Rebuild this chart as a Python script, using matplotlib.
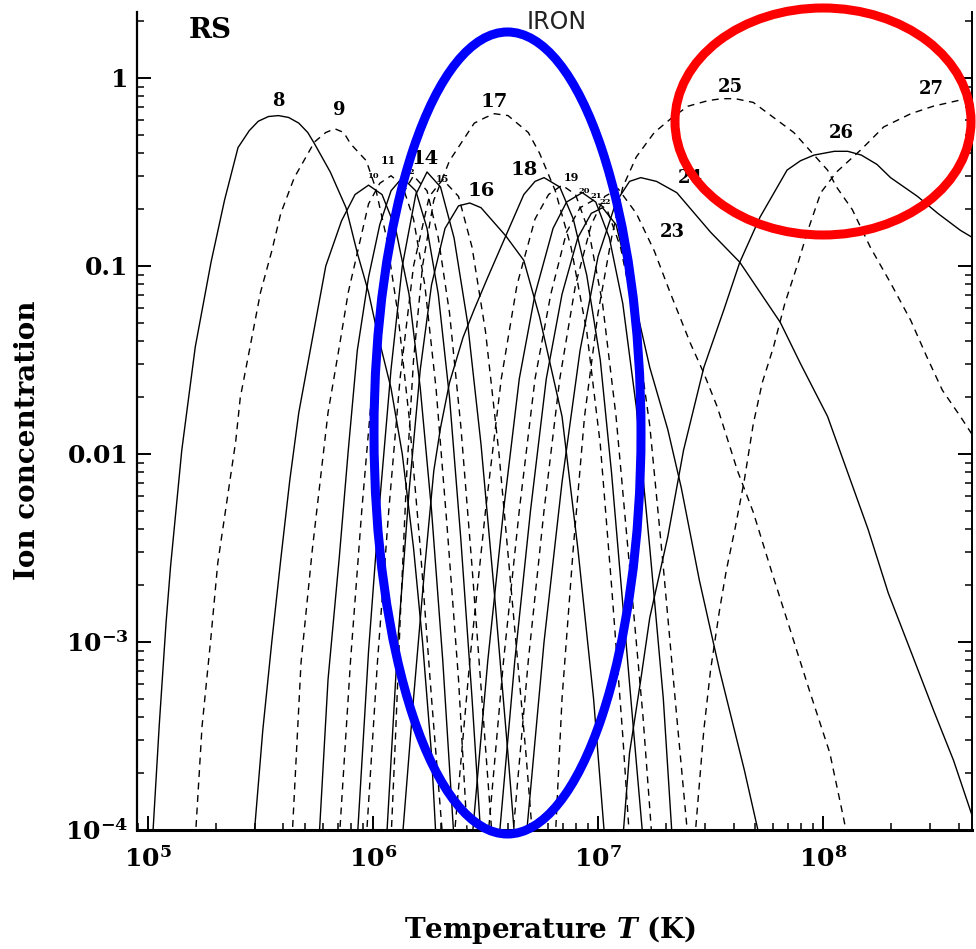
import numpy as np
import matplotlib
matplotlib.use("Agg")
import matplotlib.pyplot as plt
from matplotlib.patches import Ellipse
from matplotlib.ticker import NullFormatter

plt.rcParams["font.family"] = "DejaVu Serif"
plt.rcParams["font.weight"] = "bold"
plt.rcParams["mathtext.fontset"] = "custom"
plt.rcParams["mathtext.rm"] = "DejaVu Serif:bold"
plt.rcParams["mathtext.it"] = "DejaVu Serif:bold:italic"
plt.rcParams["mathtext.bf"] = "DejaVu Serif:bold"

# iron ion fractions: log10 T (K) and log10 fraction
fe8_t = [5.02, 5.05, 5.08, 5.10, 5.15, 5.21, 5.28, 5.34, 5.40, 5.45, 5.49, 5.535, 5.58, 5.625, 5.67,
         5.71, 5.74, 5.81, 5.88, 5.93, 5.98, 6.02, 6.08, 6.13, 6.18, 6.22, 6.26, 6.28]
fe8_f = [-4.05, -3.44, -2.9, -2.6, -1.98, -1.43, -0.98, -0.65, -0.37, -0.28, -0.23, -0.205, -0.2, -0.21,
         -0.24, -0.29, -0.35, -0.5, -0.69, -0.93, -1.14, -1.36, -1.65, -2.0, -2.5, -3.0, -3.6, -4.05]
fe9_t = [5.21, 5.24, 5.28, 5.31, 5.39, 5.41, 5.46, 5.50, 5.55, 5.59, 5.65, 5.74, 5.79, 5.83, 5.87,
         5.90, 5.97, 6.01, 6.06, 6.11, 6.16, 6.21, 6.26, 6.31]
fe9_f = [-4.05, -3.45, -2.97, -2.58, -1.93, -1.70, -1.39, -1.14, -0.92, -0.72, -0.53, -0.34, -0.29, -0.27,
         -0.29, -0.35, -0.44, -0.58, -0.85, -1.25, -1.8, -2.5, -3.3, -4.05]
fe10_t = [5.47, 5.51, 5.55, 5.59, 5.63, 5.67, 5.73, 5.79, 5.86, 5.92, 5.98, 6.04, 6.10, 6.16,
          6.21, 6.26, 6.31, 6.36]
fe10_f = [-4.05, -3.47, -3.0, -2.56, -2.14, -1.78, -1.39, -1.0, -0.76, -0.62, -0.57, -0.62, -0.8, -1.15,
          -1.65, -2.3, -3.1, -4.05]
fe11_t = [5.64, 5.68, 5.73, 5.80, 5.85, 5.89, 5.98, 6.03, 6.08, 6.13, 6.18, 6.23, 6.28, 6.33, 6.38, 6.42]
fe11_f = [-4.05, -3.11, -2.51, -1.78, -1.43, -1.14, -0.67, -0.56, -0.52, -0.57, -0.75, -1.1, -1.65, -2.4,
          -3.2, -4.05]
fe12_t = [5.76, 5.80, 5.85, 5.89, 5.93, 5.98, 6.03, 6.08, 6.13, 6.19, 6.24, 6.29, 6.34, 6.39, 6.44, 6.48]
fe12_f = [-4.05, -3.2, -2.55, -1.98, -1.45, -1.06, -0.78, -0.6, -0.53, -0.6, -0.8, -1.15, -1.7, -2.45,
          -3.3, -4.05]
fe13_t = [5.85, 5.90, 5.95, 6.0, 6.05, 6.11, 6.18, 6.24, 6.29, 6.34, 6.39, 6.44, 6.49, 6.53]
fe13_f = [-4.05, -3.1, -2.3, -1.6, -1.05, -0.66, -0.52, -0.6, -0.85, -1.25, -1.85, -2.6, -3.4, -4.05]
fe14_t = [5.93, 5.98, 6.03, 6.08, 6.13, 6.19, 6.24, 6.30, 6.36, 6.42, 6.48, 6.54, 6.60, 6.63]
fe14_f = [-4.05, -3.05, -2.25, -1.55, -1.0, -0.62, -0.5, -0.58, -0.85, -1.3, -1.95, -2.75, -3.6, -4.05]
fe15_t = [5.97, 6.02, 6.07, 6.12, 6.18, 6.25, 6.31, 6.38, 6.44, 6.50, 6.56, 6.62, 6.68, 6.71]
fe15_f = [-4.05, -3.1, -2.3, -1.6, -1.0, -0.63, -0.54, -0.63, -0.9, -1.35, -2.0, -2.8, -3.6, -4.05]
fe16_t = [6.06, 6.11, 6.16, 6.21, 6.26, 6.32, 6.38, 6.43, 6.48, 6.59, 6.67, 6.74, 6.84, 6.91, 6.98, 7.03]
fe16_f = [-4.05, -3.0, -2.2, -1.55, -1.1, -0.8, -0.68, -0.665, -0.69, -0.84, -0.97, -1.27, -1.8, -2.5,
          -3.3, -4.05]
fe17_t = [6.08, 6.10, 6.12, 6.15, 6.18, 6.22, 6.27, 6.34, 6.45, 6.50, 6.54, 6.60, 6.65, 6.69, 6.74,
          6.81, 6.88, 6.95, 7.01, 7.06, 7.11, 7.14]
fe17_f = [-4.05, -3.5, -2.9, -2.1, -1.5, -1.0, -0.65, -0.44, -0.24, -0.21, -0.19, -0.2, -0.25, -0.29,
          -0.4, -0.6, -0.9, -1.35, -1.95, -2.7, -3.5, -4.05]
fe18_t = [6.13, 6.18, 6.23, 6.27, 6.30, 6.34, 6.40, 6.45, 6.51, 6.59, 6.67, 6.72, 6.76, 6.83, 6.89,
          6.95, 7.01, 7.06, 7.11, 7.16, 7.20]
fe18_f = [-4.05, -3.3, -2.6, -2.09, -1.86, -1.62, -1.38, -1.23, -1.06, -0.84, -0.62, -0.55, -0.53, -0.58,
          -0.75, -1.05, -1.5, -2.1, -2.8, -3.5, -4.05]
fe19_t = [6.36, 6.43, 6.50, 6.57, 6.64, 6.72, 6.78, 6.84, 6.90, 6.96, 7.02, 7.08, 7.14, 7.20, 7.24]
fe19_f = [-4.05, -3.1, -2.3, -1.6, -1.1, -0.75, -0.62, -0.57, -0.62, -0.82, -1.2, -1.8, -2.6, -3.4, -4.05]
fe20_t = [6.44, 6.51, 6.58, 6.65, 6.72, 6.80, 6.86, 6.93, 6.99, 7.05, 7.11, 7.17, 7.23, 7.29, 7.33]
fe20_f = [-4.05, -3.1, -2.3, -1.6, -1.15, -0.8, -0.66, -0.61, -0.66, -0.85, -1.2, -1.75, -2.5, -3.3, -4.05]
fe21_t = [6.51, 6.58, 6.65, 6.72, 6.79, 6.86, 6.92, 6.98, 7.04, 7.10, 7.16, 7.23, 7.29, 7.35, 7.40]
fe21_f = [-4.05, -3.1, -2.3, -1.6, -1.15, -0.82, -0.69, -0.65, -0.7, -0.9, -1.25, -1.85, -2.6, -3.4, -4.05]
fe22_t = [6.56, 6.63, 6.70, 6.77, 6.84, 6.91, 6.97, 7.02, 7.08, 7.15, 7.23, 7.31, 7.37, 7.45,
          7.54, 7.65, 7.72]
fe22_f = [-4.05, -3.1, -2.3, -1.6, -1.15, -0.85, -0.72, -0.69, -0.78, -1.12, -1.54, -1.87, -2.18, -2.67,
          -3.15, -3.68, -4.05]
fe23_t = [6.62, 6.69, 6.76, 6.83, 6.90, 6.97, 7.03, 7.09, 7.17, 7.25, 7.32, 7.41, 7.47, 7.53,
          7.62, 7.69, 7.77, 7.85, 7.94, 8.03, 8.09, 8.11]
fe23_f = [-4.05, -3.1, -2.3, -1.6, -1.1, -0.78, -0.63, -0.59, -0.72, -0.92, -1.14, -1.41, -1.57, -1.75,
          -2.09, -2.31, -2.62, -2.92, -3.26, -3.59, -3.93, -4.05]
fe24_t = [6.68, 6.76, 6.84, 6.92, 7.00, 7.08, 7.14, 7.19, 7.26, 7.35, 7.50, 7.63, 7.81, 7.90,
          8.02, 8.11, 8.20, 8.29, 8.40, 8.49, 8.58, 8.67]
fe24_f = [-4.05, -3.0, -2.15, -1.45, -0.95, -0.66, -0.55, -0.53, -0.55, -0.61, -0.82, -0.98, -1.3, -1.52,
          -1.8, -2.1, -2.4, -2.74, -3.08, -3.36, -3.63, -3.95]
fe25_t = [6.81, 6.84, 6.89, 6.94, 7.00, 7.06, 7.11, 7.17, 7.25, 7.33, 7.40, 7.49, 7.55, 7.61, 7.69,
          7.78, 7.87, 7.93, 8.02, 8.06, 8.13, 8.21, 8.30, 8.39, 8.46, 8.53, 8.61, 8.67]
fe25_f = [-4.05, -3.3, -2.5, -1.8, -1.25, -0.85, -0.58, -0.42, -0.29, -0.21, -0.15, -0.12, -0.11, -0.11,
          -0.13, -0.21, -0.29, -0.37, -0.49, -0.58, -0.7, -0.9, -1.09, -1.29, -1.48, -1.66, -1.8, -1.91]
fe26_t = [7.11, 7.14, 7.19, 7.23, 7.31, 7.38, 7.47, 7.56, 7.63, 7.72, 7.84, 7.90, 7.96, 8.05, 8.11,
          8.17, 8.24, 8.30, 8.42, 8.51, 8.61, 8.68]
fe26_f = [-4.05, -3.59, -3.2, -2.87, -2.44, -1.98, -1.54, -1.23, -0.98, -0.74, -0.49, -0.44, -0.41, -0.39,
          -0.39, -0.41, -0.46, -0.53, -0.63, -0.72, -0.81, -0.86]
fe27_t = [7.43, 7.47, 7.50, 7.54, 7.57, 7.61, 7.65, 7.69, 7.73, 7.78, 7.83, 7.89, 7.93, 7.99,
          8.06, 8.17, 8.27, 8.39, 8.49, 8.60, 8.68]
fe27_f = [-4.05, -3.47, -3.15, -2.83, -2.62, -2.39, -2.14, -1.84, -1.62, -1.43, -1.2, -0.98, -0.82, -0.61,
          -0.5, -0.38, -0.26, -0.19, -0.15, -0.12, -0.1]

curves = {
    8: (fe8_t, fe8_f), 9: (fe9_t, fe9_f), 10: (fe10_t, fe10_f), 11: (fe11_t, fe11_f),
    12: (fe12_t, fe12_f), 13: (fe13_t, fe13_f), 14: (fe14_t, fe14_f), 15: (fe15_t, fe15_f),
    16: (fe16_t, fe16_f), 17: (fe17_t, fe17_f), 18: (fe18_t, fe18_f), 19: (fe19_t, fe19_f),
    20: (fe20_t, fe20_f), 21: (fe21_t, fe21_f), 22: (fe22_t, fe22_f), 23: (fe23_t, fe23_f),
    24: (fe24_t, fe24_f), 25: (fe25_t, fe25_f), 26: (fe26_t, fe26_f), 27: (fe27_t, fe27_f),
}

# curve labels: (text, log T, log fraction, size)
labels = [("8", 5.58, -0.12, 13), ("9", 5.85, -0.17, 13), ("11", 6.07, -0.44, 8),
          ("10", 6.0, -0.52, 6), ("12", 6.16, -0.5, 6), ("14", 6.23, -0.43, 14),
          ("15", 6.31, -0.54, 7), ("16", 6.48, -0.6, 14), ("17", 6.54, -0.13, 14),
          ("18", 6.67, -0.49, 14), ("19", 6.88, -0.53, 8), ("20", 6.94, -0.6, 6),
          ("21", 6.99, -0.63, 6), ("22", 7.03, -0.66, 6), ("23", 7.33, -0.82, 13),
          ("24", 7.41, -0.53, 13), ("25", 7.59, -0.05, 13), ("26", 8.08, -0.29, 13),
          ("27", 8.48, -0.06, 13)]

W, H = 976, 949
fig = plt.figure(figsize=(W / 100, H / 100), dpi=100)
ax = fig.add_axes([137 / W, 1 - 830 / H, (972 - 137) / W, (830 - 12) / H])

for ion, (lt, lf) in curves.items():
    ls = "-" if ion % 2 == 0 else (0, (5, 4))
    ax.plot(10 ** np.array(lt), 10 ** np.array(lf), color="black", lw=1.0, ls=ls)

for txt, lt, lf, sz in labels:
    ax.text(10 ** lt, 10 ** lf, txt, fontsize=sz, fontweight="bold", ha="center", va="center")

ax.set_xscale("log")
ax.set_yscale("log")
ax.set_xlim(10 ** 4.951, 10 ** 8.662)
ax.set_ylim(1e-4, 10 ** 0.351)

ax.set_xticks([1e5, 1e6, 1e7, 1e8])
ax.set_xticklabels([r"$10^5$", r"$10^6$", r"$10^7$", r"$10^8$"])
ax.set_yticks([1e-4, 1e-3, 1e-2, 1e-1, 1])
ax.set_yticklabels([r"$10^{-4}$", r"$10^{-3}$", "0.01", "0.1", "1"])
ax.xaxis.set_minor_formatter(NullFormatter())
ax.yaxis.set_minor_formatter(NullFormatter())
ax.tick_params(which="major", direction="in", length=10, width=1.4, top=False, right=True,
               labelsize=18)
ax.tick_params(which="minor", direction="in", length=5, width=1.1, top=False, right=True)
ax.tick_params(axis="x", which="major", pad=12)
ax.tick_params(axis="y", which="major", pad=6)

ax.spines["top"].set_visible(False)
ax.spines["left"].set_linewidth(1.6)
ax.spines["bottom"].set_linewidth(2.2)
ax.spines["right"].set_linewidth(1.4)

fig.text(550 / W, 1 - 930 / H, r"Temperature $T$ (K)", fontsize=20, fontweight="bold",
         ha="center", va="center")
fig.text(28 / W, 1 - 440 / H, "Ion concentration", fontsize=20, fontweight="bold",
         rotation=90, ha="center", va="center")
fig.text(210 / W, 1 - 31 / H, "RS", fontsize=20, fontweight="bold", ha="center", va="center")
fig.text(557 / W, 1 - 22 / H, "IRON", fontsize=17, fontweight="normal", family="DejaVu Sans",
         color="#222222", ha="center", va="center")

# hand-drawn highlight rings on top of the scan
fig.add_artist(Ellipse((507.5 / W, 1 - 433 / H), 267 / W, 802 / H, transform=fig.transFigure,
                       fill=False, ec="#0000ff", lw=6.5))
fig.add_artist(Ellipse((823 / W, 1 - 121.5 / H), 296 / W, 227 / H, transform=fig.transFigure,
                       fill=False, ec="#ff0000", lw=6.5))

fig.savefig("out.png", dpi=100)
